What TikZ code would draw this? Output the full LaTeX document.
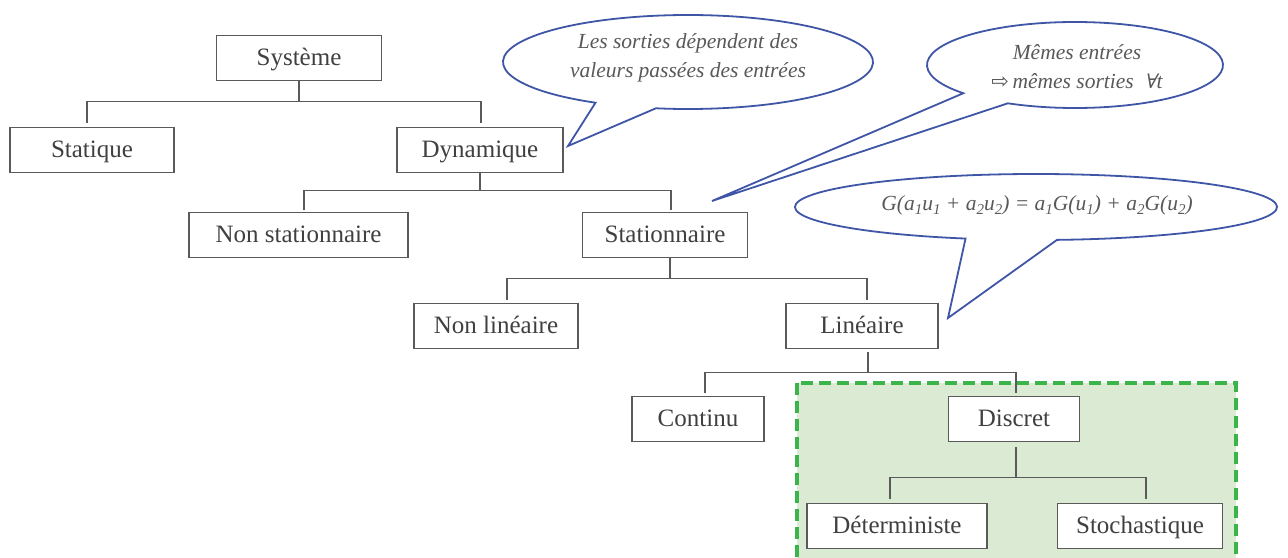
\documentclass[tikz,border=0pt]{standalone}
\usepackage{fontspec}
\setmainfont{Liberation Serif}
\newfontfamily\symfont{DejaVu Sans}
\newfontfamily\slantsym[FakeSlant=0.2]{DejaVu Serif}
\usetikzlibrary{calc}
\definecolor{boxline}{HTML}{5A5A5A}
\definecolor{boxtext}{HTML}{404040}
\definecolor{bubbleblue}{HTML}{3F56A6}
\definecolor{bubbletext}{HTML}{595959}
\definecolor{zonegreen}{HTML}{3BB44A}
\definecolor{zonefill}{HTML}{DAEAD3}
% lowered index inside the italic formula
\newcommand\ix[1]{\raisebox{-0.45ex}{\fontsize{15}{15}\selectfont #1}}
\begin{document}
\begin{tikzpicture}[x=1pt,y=-1pt,
  box/.style={draw=boxline,line width=1.3pt,fill=white,minimum height=45pt,
    inner sep=0pt,text height=19pt,text depth=5pt,text=boxtext,
    font=\fontsize{25}{30}\selectfont},
  conn/.style={draw=boxline,line width=1.3pt},
  bubble/.style={draw=bubbleblue,line width=1.8pt,fill=white,line join=miter},
  btext/.style={text=bubbletext,font=\fontsize{21.5}{29}\selectfont\itshape,align=center}]
\useasboundingbox (0,0) rectangle (1288,557);

% shaded zone around the discrete branch
\draw[draw=zonegreen,fill=zonefill,line width=3.5pt,dash pattern=on 12pt off 6pt]
  (797,383) rectangle (1236,600);

% classification tree
\node[box,minimum width=165pt] (sys)   at (299,58)    {Système};
\node[box,minimum width=164pt] (stat)  at (92,150)    {Statique};
\node[box,minimum width=166pt] (dyn)   at (480,150)   {Dynamique};
\node[box,minimum width=219pt] (nstat) at (298.5,235) {Non stationnaire};
\node[box,minimum width=165pt] (stnr)  at (665,235)   {Stationnaire};
\node[box,minimum width=164pt] (nlin)  at (496,326)   {Non linéaire};
\node[box,minimum width=152pt] (lin)   at (862,326)   {Linéaire};
\node[box,minimum width=132pt] (cont)  at (698,419)   {Continu};
\node[box,minimum width=131pt] (disc)  at (1014,419)  {Discret};
\node[box,minimum width=180pt] (det)   at (897,526)   {Déterministe};
\node[box,minimum width=165pt] (sto)   at (1140,526)  {Stochastique};

% drop points just above the child boxes
\coordinate (dStat)  at (87,123);
\coordinate (dDyn)   at (481,123);
\coordinate (dNstat) at (304,210);
\coordinate (dStnr)  at (671,210);
\coordinate (dNlin)  at (507,300);
\coordinate (dLin)   at (867,300);
\coordinate (dCont)  at (705,393);
\coordinate (dDisc)  at (1016,393);
\coordinate (dDet)   at (890,499);
\coordinate (dSto)   at (1146,499);

\draw[conn] (sys.south) -- ++(0,20) coordinate (j1);
\draw[conn] (dStat) |- (j1) -| (dDyn);
\draw[conn] (dyn.south) -- ++(0,17) coordinate (j2);
\draw[conn] (dNstat) |- (j2) -| (dStnr);
\draw[conn] ([xshift=5pt]stnr.south) -- ++(0,20) coordinate (j3);
\draw[conn] (dNlin) |- (j3) -| (dLin);
\draw[conn] ([xshift=6pt,yshift=-3pt]lin.south) -- ++(0,20) coordinate (j4);
\draw[conn] (dCont) |- (j4) -| (dDisc);
\draw[conn] ([xshift=2pt,yshift=-5pt]disc.south) -- ++(0,30) coordinate (j5);
\draw[conn] (dDet) |- (j5) -| (dSto);

% speech bubbles
\coordinate (c1) at (688,62);
\coordinate (tip1) at (568,146);
\draw[bubble] ($(c1)+(120:185 and 47)$)
  arc[start angle=120,end angle=460,x radius=185,y radius=47] -- (tip1) -- cycle;
\node[btext] (t1) at (688,58) {Les sorties dépendent des\\valeurs passées des entrées};

\coordinate (c2) at (1075,65);
\coordinate (tip2) at (712,201);
\draw[bubble] ($(c2)+(139:148 and 43)$)
  arc[start angle=139,end angle=477,x radius=148,y radius=43] -- (tip2) -- cycle;
\node[btext] (t2) at (1077,67) {Mêmes entrées\\{\symfont\fontsize{21}{21}\selectfont ⇨}\,mêmes sorties\ \ {\slantsym\fontsize{20}{20}\selectfont ∀}t};

\coordinate (c3) at (1036,207);
\coordinate (tip3) at (948,318);
\draw[bubble] ($(c3)+(107:241 and 33)$)
  arc[start angle=107,end angle=445,x radius=241,y radius=33] -- (tip3) -- cycle;
\node[btext] (t3) at (1037,205)
  {G(a\ix{1}u\ix{1} + a\ix{2}u\ix{2}) = a\ix{1}G(u\ix{1}) + a\ix{2}G(u\ix{2})};
\end{tikzpicture}
\end{document}
